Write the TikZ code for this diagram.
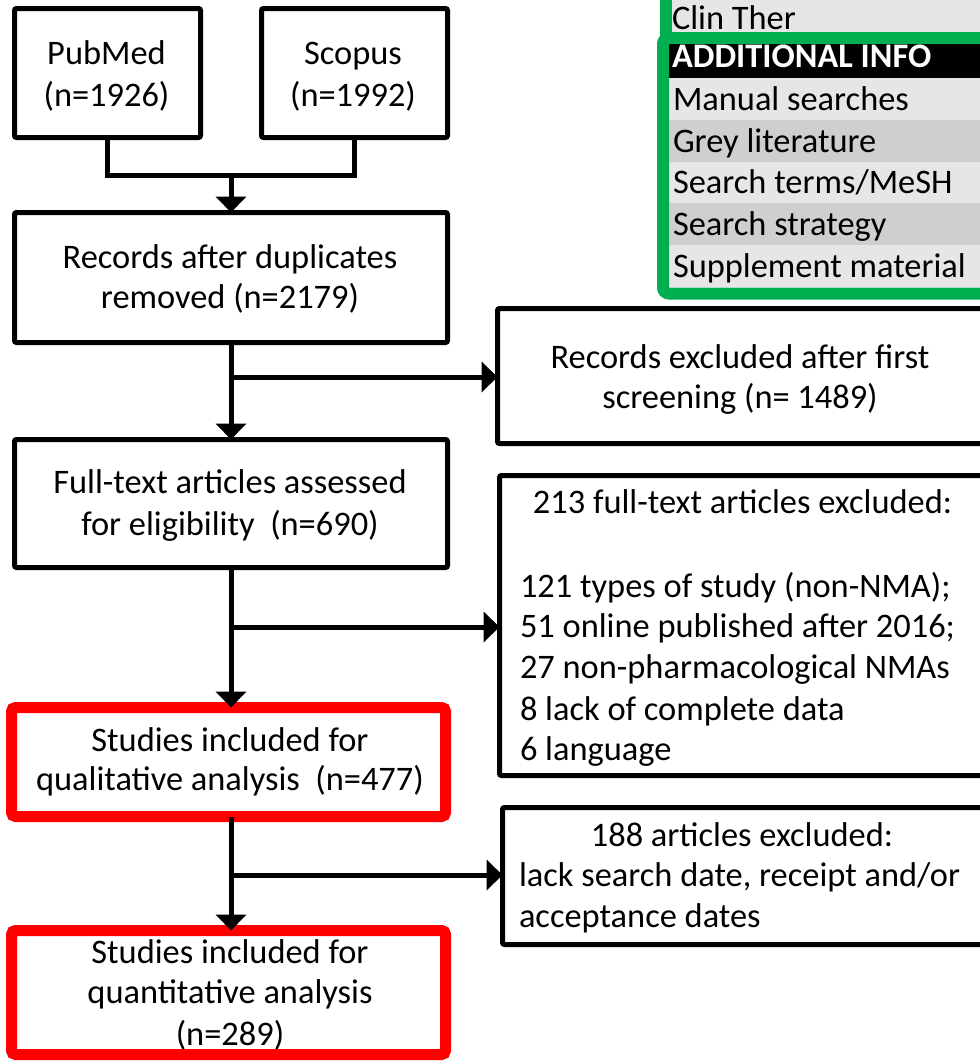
\documentclass[tikz,border=0pt]{standalone}
\usepackage{fontspec}
\setmainfont{Carlito}
\usetikzlibrary{arrows.meta}
\definecolor{rowlight}{HTML}{E7E6E6}
\definecolor{rowdark}{HTML}{D0CECE}
\definecolor{pgreen}{HTML}{00B050}
\definecolor{pred}{HTML}{FF0000}
\begin{document}
\begin{tikzpicture}[x=0.5pt,y=-0.5pt,
  font=\fontsize{17.2}{21}\selectfont,
  box/.style={draw=black, line width=2.5pt, rounded corners=1pt, inner sep=0pt, outer sep=0pt, fill=white},
  redbox/.style={draw=pred, line width=5.5pt, rounded corners=2pt, inner sep=0pt, outer sep=0pt, fill=white},
  txt/.style={anchor=base, inner sep=0pt, outer sep=0pt},
  ltxt/.style={anchor=base west, inner sep=0pt, outer sep=0pt},
  link/.style={line width=2.5pt},
  arr/.style={link, -{Triangle[width=15pt,length=8pt]}}]
\useasboundingbox (0,0) rectangle (980,1061);
\clip (0,0) rectangle (980,1061);

% ---- top-right panel ----
\fill[pgreen] (660,-5) rectangle (672,40);
\fill[rowlight] (672,-5) rectangle (995,32);
\fill[black] (669,44) rectangle (995,78);
\fill[rowlight] (669,78) rectangle (995,120);
\fill[rowdark] (669,120) rectangle (995,162);
\fill[rowlight] (669,162) rectangle (995,203);
\fill[rowdark] (669,203) rectangle (995,245);
\fill[rowlight] (669,245) rectangle (995,287);
\draw[pgreen, line width=6pt, rounded corners=3pt] (663,38) rectangle (1010,293.5);
\node[ltxt] (clin) at (672,29) {Clin Ther};
\node[ltxt, text=white] (addinfo) at (672,67) {\bfseries ADDITIONAL INFO};
\node[ltxt] (manual) at (673,110) {Manual searches};
\node[ltxt] (grey) at (673,152) {Grey literature};
\node[ltxt] (terms) at (673,193) {Search terms/MeSH};
\node[ltxt] (strategy) at (673,235) {Search strategy};
\node[ltxt] (suppl) at (673,277) {Supplement material};

% ---- boxes ----
\node[box, minimum width=93pt, minimum height=64.5pt] (pubmed) at (107.5,73) {};
\node[box, minimum width=93pt, minimum height=64.5pt] (scopus) at (354.5,73) {};
\node[box, minimum width=216.5pt, minimum height=65pt] (records) at (231,277.5) {};
\node[box, minimum width=243.5pt, minimum height=67.5pt] (excl1) at (741,376) {};
\node[box, minimum width=216.5pt, minimum height=64pt] (fulltext) at (231,503.5) {};
\node[box, minimum width=242.5pt, minimum height=150pt] (excl2) at (742,625.5) {};
\node[redbox, minimum width=217pt, minimum height=54.5pt] (qual) at (228.5,762) {};
\node[box, minimum width=242.5pt, minimum height=68.5pt] (excl3) at (745,876) {};
\node[redbox, minimum width=217pt, minimum height=62pt] (quant) at (228.5,992.5) {};

% ---- texts ----
\node[txt] (t1a) at (106.5,64) {PubMed};
\node[txt] (t1b) at (106.5,106) {(n=1926)};
\node[txt] (t2a) at (353,64) {Scopus};
\node[txt] (t2b) at (353,106) {(n=1992)};
\node[txt] (t3a) at (230,268) {Records after duplicates};
\node[txt] (t3b) at (230,308) {removed (n=2179)};
\node[txt] (t4a) at (740,368) {Records excluded after first};
\node[txt] (t4b) at (740,408) {screening (n= 1489)};
\node[txt] (t5a) at (230,493) {Full-text articles assessed};
\node[txt] (t5b) at (230,535) {for eligibility\ \ (n=690)};
\node[txt] (t6a) at (742.5,513) {213 full-text articles excluded:};
\node[ltxt] (t6b) at (520,597) {121 types of study (non-NMA);};
\node[ltxt] (t6c) at (520,637) {51 online published after 2016;};
\node[ltxt] (t6d) at (520,678) {27 non-pharmacological NMAs};
\node[ltxt] (t6e) at (520,720) {8 lack of complete data};
\node[ltxt] (t6f) at (520,760) {6 language};
\node[txt] (t7a) at (230,751) {Studies included for};
\node[txt] (t7b) at (230,790) {qualitative analysis\ \ (n=477)};
\node[txt] (t8a) at (742,846) {188 articles excluded:};
\node[ltxt] (t8b) at (519,886) {lack search date, receipt and/or};
\node[ltxt] (t8c) at (519,927) {acceptance dates};
\node[txt] (t9a) at (230,963) {Studies included for};
\node[txt] (t9b) at (230,1003) {quantitative analysis};
\node[txt] (t9c) at (230,1045) {(n=289)};

% ---- connectors ----
\coordinate (merge) at (231,175);
\coordinate (b1) at (231,377);
\coordinate (b2) at (231,627);
\coordinate (b3) at (231,875);
\draw[link] (pubmed.south) |- (merge) -| (scopus.south);
\draw[arr] (merge) -- (records.north);
\draw[arr] (records.south) -- (fulltext.north);
\draw[arr] (b1) -- (b1 -| excl1.west);
\draw[arr] (fulltext.south) -- (fulltext.south |- qual.north);
\draw[arr] (b2) -- (b2 -| excl2.west);
\draw[arr] (qual.south -| b3) -- (b3 |- quant.north);
\draw[arr] (b3) -- (b3 -| excl3.west);
\end{tikzpicture}
\end{document}
